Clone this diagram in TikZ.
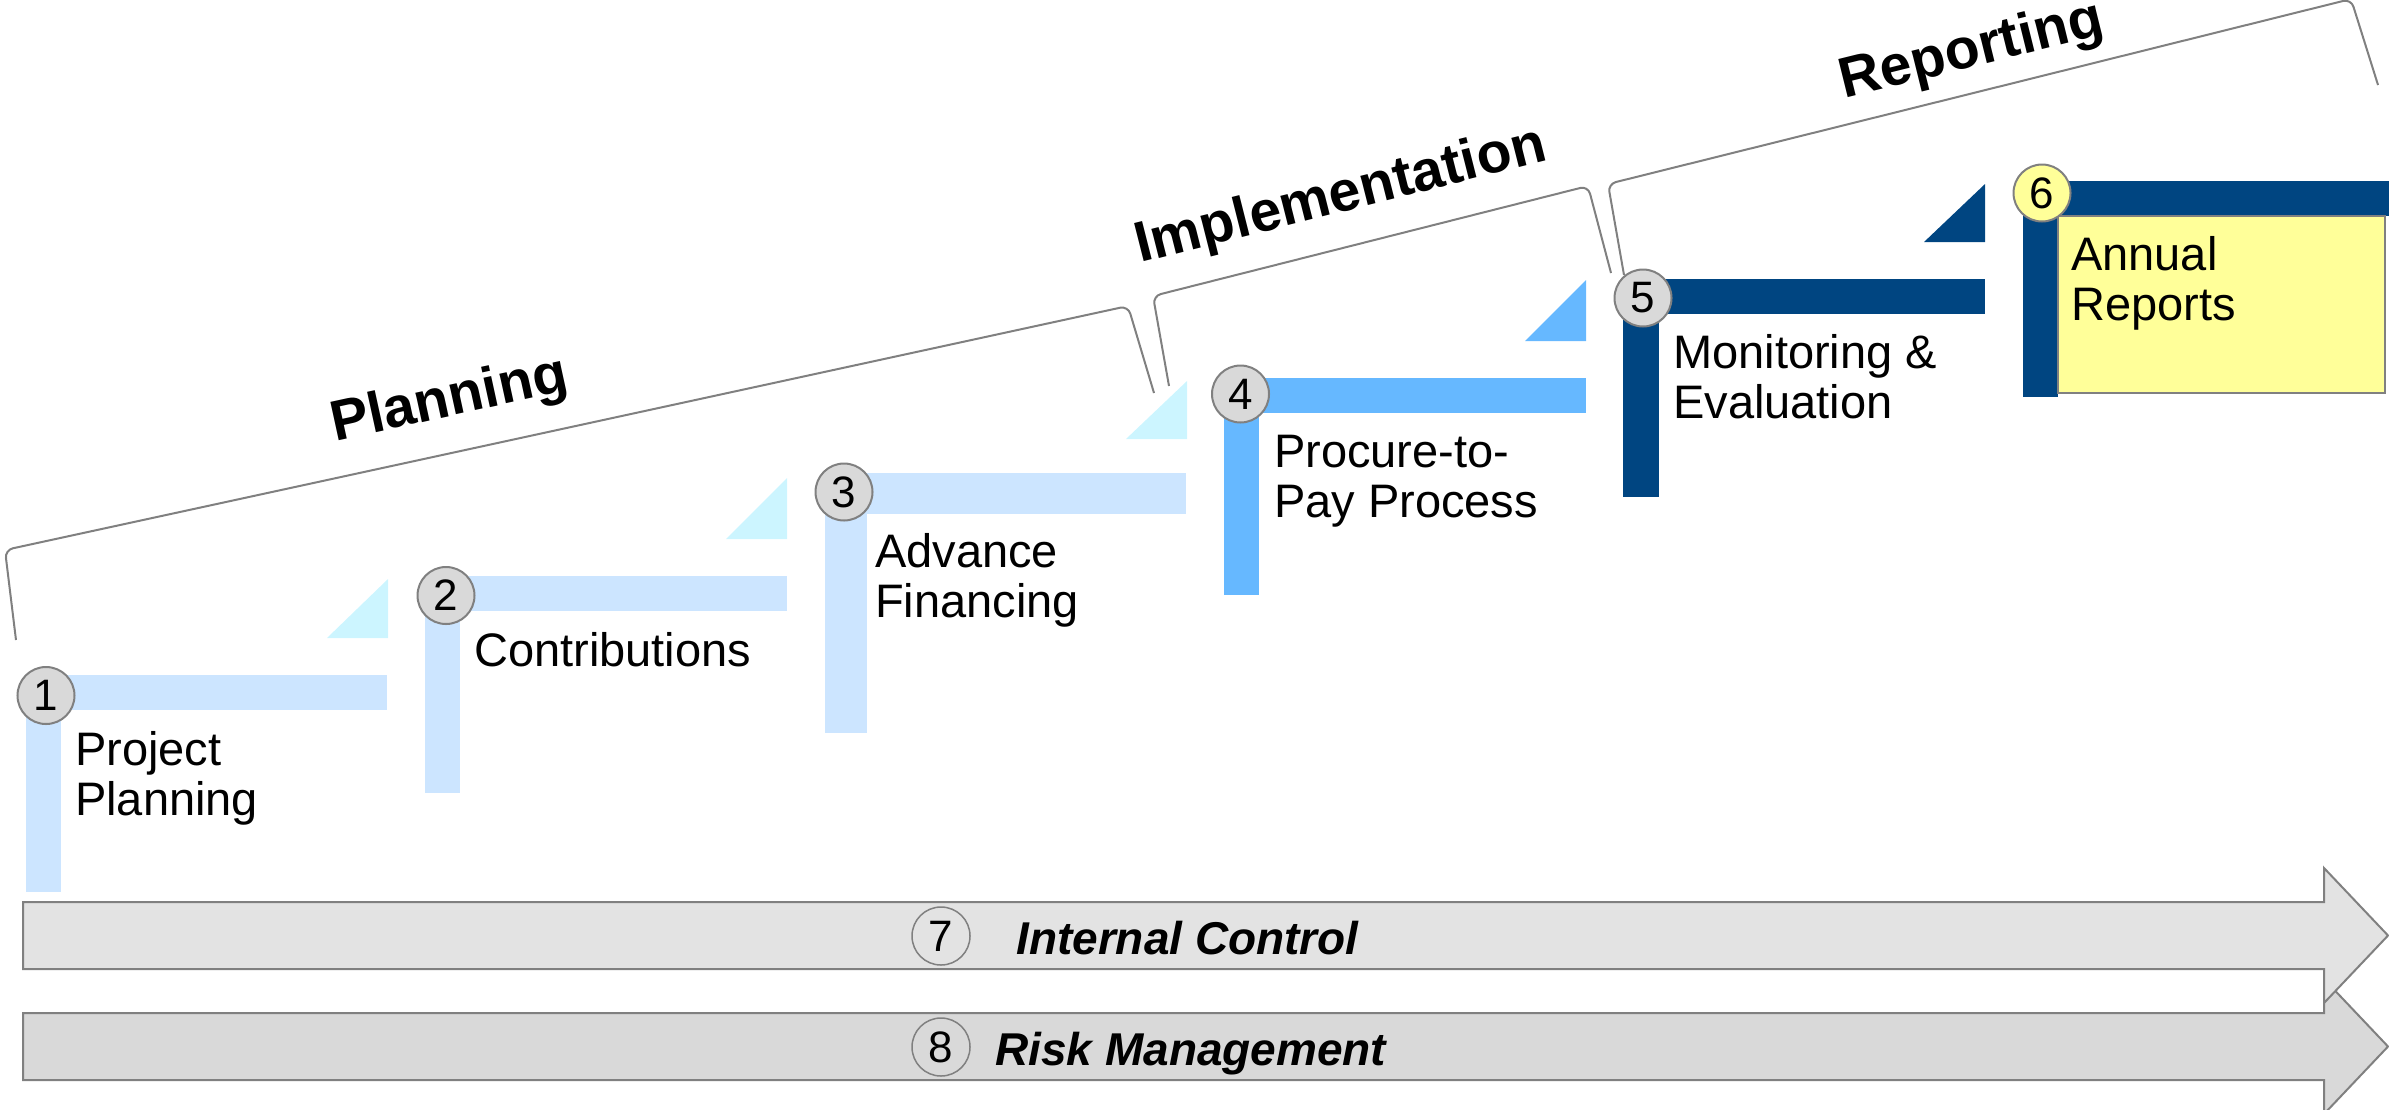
\documentclass[tikz,border=0pt]{standalone}
\usepackage{fontspec}
\setmainfont{Liberation Sans}
\definecolor{lblue}{HTML}{CCE5FF}
\definecolor{lcyan}{HTML}{CCF5FF}
\definecolor{mblue}{HTML}{66B8FF}
\definecolor{navy}{HTML}{004581}
\definecolor{pyellow}{HTML}{FFFF99}
\definecolor{cgray}{HTML}{808080}
\definecolor{cnum}{HTML}{D9D9D9}
\definecolor{arrA}{HTML}{E3E3E3}
\definecolor{arrB}{HTML}{D9D9D9}
\begin{document}
\begin{tikzpicture}[x=1pt,y=-1pt,
  num/.style={circle, draw=cgray, line width=2pt, fill=cnum, minimum size=57pt, inner sep=0pt,
    font=\fontsize{44}{46}\selectfont},
  numo/.style={circle, draw=cgray, line width=1.5pt, minimum size=58pt, inner sep=0pt,
    font=\fontsize{44}{46}\selectfont},
  lab/.style={font=\fontsize{47}{50}\selectfont, align=left, anchor=base west, inner sep=0pt},
  phase/.style={font=\fontsize{57}{60}\selectfont\bfseries, inner sep=0pt},
  bi/.style={font=\fontsize{46}{50}\selectfont\bfseries\itshape, anchor=base west, inner sep=0pt},
  brace/.style={draw=cgray, line width=2pt, rounded corners=8pt},
  arrowsty/.style={draw=cgray, line width=2pt, line join=miter},
]
\useasboundingbox (0,0) rectangle (2389,1109);

% braces
\draw[brace] (16,640) -- (5,550) -- (1128,306) -- (1154,393);
\draw[brace] (1169,386) -- (1153,296) -- (1588,186) -- (1611,273);
\draw[brace] (1624,275) -- (1608,184) -- (2351,-1) -- (2378,85);

\node[phase, rotate=12.3] (pl) at (449.5,401.5) {Planning};
\node[phase, rotate=14.2] (im) at (1341,197) {Implementation};
\node[phase, rotate=13.9] (re) at (1972,52) {Reporting};

% step 1
\fill[lblue] (26,675) rectangle (61,892);
\fill[lblue] (26,675) rectangle (387,710);
\fill[lcyan] (327,638) -- (388,579) -- (388,638) -- cycle;
% step 2
\fill[lblue] (425,576) rectangle (460,793);
\fill[lblue] (425,576) rectangle (787,611);
\fill[lcyan] (726,539) -- (787,478) -- (787,539) -- cycle;
% step 3
\fill[lblue] (825,473) rectangle (867,733);
\fill[lblue] (825,473) rectangle (1186,514);
\fill[lcyan] (1126,439) -- (1187,381) -- (1187,439) -- cycle;
% step 4
\fill[mblue] (1224,378) rectangle (1259,595);
\fill[mblue] (1224,378) rectangle (1586,413);
\fill[mblue] (1525,341) -- (1586,280) -- (1586,341) -- cycle;
% step 5
\fill[navy] (1623,279) rectangle (1659,497);
\fill[navy] (1623,279) rectangle (1985,314);
\fill[navy] (1924,242) -- (1985,184) -- (1985,242) -- cycle;
% step 6
\fill[navy] (2023,181) rectangle (2058,397);
\fill[navy] (2023,181) rectangle (2389,216);
\draw[draw=cgray, line width=2pt, fill=pyellow] (2058,216) rectangle (2385,393);

% circles
\node[num] (c1) at (46,695.5) {1};
\node[num] (c2) at (446,595.5) {2};
\node[num] (c3) at (844,492) {3};
\node[num] (c4) at (1240.5,394) {4};
\node[num] (c5) at (1643,298) {5};
\node[num, fill=pyellow] (c6) at (2042,193) {6};

% labels (anchor = baseline of last line)
\node[lab] (t1) at (75,815) {Project\\Planning};
\node[lab] (t2) at (474,666) {Contributions};
\node[lab] (t3) at (875,617) {Advance\\Financing};
\node[lab] (t4) at (1274,517) {Procure-to-\\Pay Process};
\node[lab] (t5) at (1673,418) {Monitoring \&\\Evaluation};
\node[lab] (t6) at (2071,320) {Annual\\Reports};

% bottom arrows
\draw[arrowsty, fill=arrB] (23,1013) -- (2324,1013) -- (2324,979) -- (2388,1046.5) -- (2324,1114) -- (2324,1080) -- (23,1080) -- cycle;
\draw[arrowsty, fill=arrA] (23,902) -- (2324,902) -- (2324,868) -- (2388,935.5) -- (2324,1003) -- (2324,969) -- (23,969) -- cycle;

\node[numo] (c7) at (941,936) {7};
\node[numo] (c8) at (941,1047) {8};
\node[bi] (ic) at (1016,954) {Internal Control};
\node[bi] (rm) at (995,1065) {Risk Management};
\end{tikzpicture}
\end{document}
